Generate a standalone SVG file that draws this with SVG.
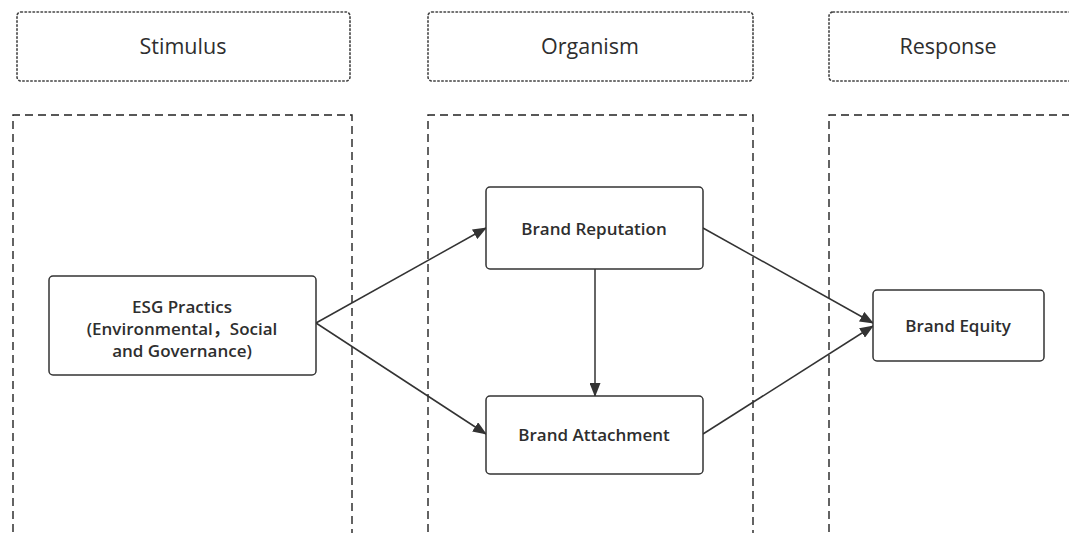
<svg xmlns="http://www.w3.org/2000/svg" width="1069" height="533" viewBox="0 0 1069 533">
<style>
.hdr{fill:#fff;stroke:#444;stroke-width:1.6;stroke-dasharray:1.5 2.5;stroke-linecap:round}
.col{fill:none;stroke:#222;stroke-width:1.4;stroke-dasharray:8 5}
.node{fill:#fff;stroke:#333;stroke-width:1.5}
.ht{font-family:"Open Sans","Noto Sans CJK SC",sans-serif;font-size:21.5px;font-weight:500;fill:#2e2e2e;text-anchor:middle}
.nt{font-family:"Open Sans","Noto Sans CJK SC",sans-serif;font-size:17px;font-weight:600;fill:#2e2e2e;text-anchor:middle}
.edge{stroke:#333;stroke-width:1.5;fill:none;marker-end:url(#arr)}
</style>
<defs>
<marker id="arr" viewBox="0 0 14 11" refX="13" refY="5.5" markerWidth="14" markerHeight="11" markerUnits="userSpaceOnUse" orient="auto">
<path d="M0,0 L14,5.5 L0,11 Z" fill="#333"/>
</marker>
</defs>
<rect width="1069" height="533" fill="#fff"/>
<g id="header-stimulus"><rect class="hdr" x="17" y="12" width="333" height="69" rx="4"/><text class="ht" x="183" y="54">Stimulus</text></g>
<g id="header-organism"><rect class="hdr" x="428" y="12" width="325" height="69" rx="4"/><text class="ht" x="590" y="54">Organism</text></g>
<g id="header-response"><rect class="hdr" x="829" y="12" width="260" height="69" rx="4"/><text class="ht" x="948" y="54">Response</text></g>
<g id="col-stimulus"><path class="col" d="M13,545 V115 H352 V545"/></g>
<g id="col-organism"><path class="col" d="M428,545 V115 H753 V545"/></g>
<g id="col-response"><path class="col" d="M829,545 V115 H1090"/></g>
<g id="connectors">
<path class="edge" d="M316,323 L486,228"/>
<path class="edge" d="M316,323 L486,434"/>
<path class="edge" d="M595,269 L595,396"/>
<path class="edge" d="M703,228 L873,323"/>
<path class="edge" d="M703,434 L873,326"/>
</g>
<g id="node-esg"><rect class="node" x="49" y="276" width="267" height="99" rx="4"/>
<text class="nt" x="182" y="313">ESG Practics</text>
<text class="nt" x="182" y="335">(Environmental，Social</text>
<text class="nt" x="182" y="357">and Governance)</text></g>
<g id="node-reputation"><rect class="node" x="486" y="187" width="217" height="82" rx="4"/><text class="nt" x="594" y="235">Brand Reputation</text></g>
<g id="node-attachment"><rect class="node" x="486" y="396" width="217" height="78" rx="4"/><text class="nt" x="594" y="441">Brand Attachment</text></g>
<g id="node-equity"><rect class="node" x="873" y="290" width="171" height="71" rx="4"/><text class="nt" x="958" y="332">Brand Equity</text></g>
</svg>
